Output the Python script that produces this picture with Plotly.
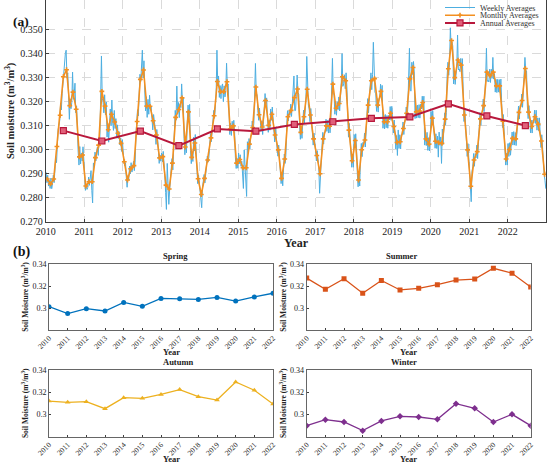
import plotly.graph_objects as go

years = list(range(2010, 2023))
year_ticks = list(range(2010, 2023))

# monthly averages, one row per year (Jan..Dec)
monthly = [
    0.2877, 0.2857, 0.2877, 0.3012, 0.3142, 0.3302, 0.3331, 0.3182, 0.3238, 0.3167, 0.2969, 0.2977,
    0.2848, 0.2866, 0.2866, 0.2966, 0.3018, 0.3241, 0.3180, 0.3082, 0.3146, 0.3114, 0.3067, 0.3025,
    0.2949, 0.2873, 0.2920, 0.2933, 0.3116, 0.3291, 0.3330, 0.3180, 0.3179, 0.3119, 0.3060, 0.2965,
    0.2970, 0.2852, 0.2836, 0.2943, 0.3133, 0.3166, 0.3214, 0.3010, 0.3156, 0.2967, 0.3027, 0.2878,
    0.2813, 0.2880, 0.2956, 0.3048, 0.3140, 0.3282, 0.3240, 0.3240, 0.3281, 0.3085, 0.3098, 0.2943,
    0.2958, 0.2924, 0.2924, 0.3022, 0.3091, 0.3259, 0.3144, 0.3093, 0.3203, 0.3100, 0.3146, 0.3060,
    0.2998, 0.2880, 0.2960, 0.3136, 0.3162, 0.3215, 0.3251, 0.3071, 0.3136, 0.3250, 0.3143, 0.3044,
    0.2975, 0.2899, 0.3044, 0.3098, 0.3096, 0.3271, 0.3171, 0.3191, 0.3302, 0.3285, 0.3080, 0.2953,
    0.3037, 0.2873, 0.2999, 0.3039, 0.3184, 0.3285, 0.3294, 0.3184, 0.3241, 0.3115, 0.3115, 0.3150,
    0.3095, 0.3029, 0.3032, 0.3087, 0.3150, 0.3293, 0.3340, 0.3156, 0.3159, 0.3195, 0.3044, 0.3022,
    0.3130, 0.3034, 0.3028, 0.3025, 0.3126, 0.3335, 0.3452, 0.3298, 0.3371, 0.3350, 0.3143, 0.2998,
    0.2847, 0.2956, 0.2991, 0.3127, 0.3182, 0.3321, 0.3306, 0.3321, 0.3264, 0.3264, 0.3117, 0.2960,
    0.3000, 0.3046, 0.3044, 0.3154, 0.3203, 0.3336, 0.3155, 0.3095, 0.3136, 0.3105, 0.3035, 0.2897,
]

# weekly averages, four per month, one row per year
weekly = [
    .2905, .2862, .2893, .2848, .2872, .2838, .2881, .2837, .2858, .2893, .2862, .2915,
    .2968, .2945, .3052, .3083, .3098, .3121, .3185, .3164, .3232, .3279, .3325, .3372,
    .3398, .3412, .3296, .3318, .3224, .3125, .3210, .3169, .3194, .3321, .3208, .3229,
    .3275, .3152, .3181, .3060, .2989, .2935, .3012, .2940, .2985, .2952, .3011, .2960,

    .2872, .2830, .2856, .2834, .2843, .2885, .2851, .2885, .2912, .2830, .2778, .2944,
    .2928, .2989, .2952, .2995, .3010, .2975, .3045, .3042, .3165, .3388, .3212, .3199,
    .3152, .3227, .3144, .3197, .3051, .3108, .3030, .3139, .3168, .3098, .3205, .3113,
    .3079, .3162, .3087, .3128, .3047, .3102, .3045, .3074, .3019, .3048, .2992, .3041,

    .2968, .2951, .2932, .2945, .2885, .2843, .2892, .2872, .2931, .2898, .2945, .2906,
    .2922, .2951, .2912, .2947, .3062, .3098, .3165, .3139, .3215, .3312, .3283, .3354,
    .3412, .3297, .3368, .3243, .3160, .3219, .3133, .3208, .3146, .3225, .3168, .3177,
    .3139, .3081, .3145, .3111, .3088, .3021, .3083, .3048, .2991, .2942, .2976, .2951,

    .2985, .2948, .2992, .2955, .2893, .2822, .2751, .2942, .2860, .2772, .2831, .2881,
    .2908, .2962, .2915, .2987, .3086, .3162, .3121, .3263, .3148, .3195, .3132, .3189,
    .3174, .3272, .3195, .3215, .3045, .2978, .3031, .2986, .3118, .3184, .3135, .3187,
    .2995, .2941, .2982, .2950, .3051, .2994, .3062, .3001, .2902, .2858, .2895, .2857,

    .2833, .2788, .2758, .2842, .2862, .2896, .2861, .2903, .2935, .2972, .2948, .2969,
    .3021, .3066, .3032, .3073, .3109, .3162, .3129, .3172, .3231, .3412, .3272, .3305,
    .3216, .3265, .3211, .3262, .3272, .3198, .3264, .3218, .3245, .3358, .3261, .3272,
    .3121, .3062, .3109, .3058, .3117, .3079, .3121, .3075, .2968, .2921, .2963, .2922,

    .2985, .2941, .2978, .2930, .2951, .2896, .2838, .2998, .2947, .2893, .2805, .3032,
    .2988, .3045, .3002, .3053, .3062, .3118, .3075, .3108, .3221, .3357, .3236, .3225,
    .3162, .3121, .3172, .3120, .3075, .3119, .3062, .3115, .3176, .3232, .3189, .3214,
    .3128, .3071, .3122, .3080, .3168, .3121, .3176, .3117, .3082, .3031, .3090, .3036,

    .3025, .2972, .3018, .2978, .2912, .2858, .2901, .2849, .2938, .2981, .2942, .2979,
    .3102, .3161, .3118, .3163, .3141, .3188, .3137, .3182, .3232, .3305, .3161, .3162,
    .3228, .3309, .3237, .3230, .3101, .3042, .3095, .3046, .3112, .3163, .3108, .3161,
    .3218, .3386, .3212, .3184, .3168, .3115, .3170, .3119, .3071, .3018, .3068, .3019,

    .2998, .2952, .2995, .2955, .2925, .2818, .2902, .2951, .3015, .3071, .3022, .3068,
    .3072, .3125, .3075, .3120, .3068, .3124, .3069, .3123, .3245, .3378, .3231, .3230,
    .3146, .3198, .3142, .3198, .3165, .3218, .3160, .3221, .3275, .3398, .3262, .3273,
    .3310, .3252, .3318, .3260, .3112, .3051, .3108, .3049, .2979, .2926, .2981, .2926,

    .3062, .3011, .3065, .3010, .2901, .2845, .2898, .2848, .2972, .3025, .2970, .3029,
    .3012, .3068, .3010, .3066, .3158, .3211, .3152, .3215, .3262, .3318, .3248, .3312,
    .3445, .3262, .3238, .3231, .3158, .3211, .3155, .3212, .3215, .3271, .3212, .3266,
    .3088, .3142, .3085, .3145, .3090, .3141, .3088, .3141, .3122, .3178, .3121, .3179,

    .3121, .3068, .3122, .3069, .3002, .3058, .2975, .3081, .3004, .3061, .3002, .3061,
    .3060, .3114, .3062, .3112, .3124, .3176, .3122, .3178, .3265, .3420, .3245, .3242,
    .3362, .3311, .3365, .3322, .3128, .3182, .3130, .3184, .3132, .3186, .3130, .3188,
    .3168, .3221, .3170, .3221, .3018, .3071, .3016, .3071, .2996, .3049, .2994, .3049,

    .3158, .3102, .3161, .3099, .3062, .3005, .3065, .3004, .3055, .2968, .3072, .3017,
    .3052, .2942, .3085, .3021, .3098, .3152, .3101, .3153, .3305, .3362, .3308, .3365,
    .3505, .3428, .3445, .3430, .3272, .3325, .3270, .3325, .3345, .3475, .3330, .3334,
    .3323, .3378, .3322, .3377, .3170, .3116, .3172, .3114, .3025, .2971, .3024, .2972,

    .2875, .2820, .2783, .2910, .2928, .2983, .2930, .2983, .2965, .3018, .2962, .3019,
    .3101, .3153, .3100, .3154, .3155, .3209, .3157, .3207, .3295, .3420, .3282, .3287,
    .3280, .3333, .3278, .3333, .3295, .3382, .3292, .3315, .3238, .3291, .3236, .3291,
    .3238, .3290, .3236, .3292, .3142, .3091, .3145, .3090, .2986, .2935, .2984, .2935,

    .3025, .2971, .3028, .2976, .3020, .3072, .3018, .3074, .3018, .3070, .3016, .3072,
    .3128, .3180, .3126, .3182, .3176, .3230, .3175, .3231, .3310, .3382, .3326, .3326,
    .3181, .3128, .3182, .3129, .3069, .3121, .3068, .3122, .3110, .3163, .3108, .3163,
    .3080, .3131, .3078, .3131, .3062, .3008, .3061, .3009, .2925, .2895, .2870, .2837,
]

annual = [0.3078, 0.3035, 0.3076, 0.3016, 0.3085, 0.3076, 0.3104,
          0.3115, 0.3129, 0.3135, 0.3189, 0.3139, 0.3099]

spring = [0.3012, 0.2949, 0.2994, 0.2973, 0.3051, 0.3015, 0.3087,
          0.3084, 0.3078, 0.3096, 0.3063, 0.3101, 0.3134]
summer = [0.3272, 0.3170, 0.3266, 0.3134, 0.3251, 0.3164, 0.3179,
          0.3212, 0.3254, 0.3263, 0.3361, 0.3316, 0.3191]
autumn = [0.3120, 0.3108, 0.3114, 0.3051, 0.3150, 0.3144, 0.3180,
          0.3223, 0.3159, 0.3129, 0.3292, 0.3217, 0.3093]
winter = [0.2898, 0.2952, 0.2931, 0.2853, 0.2940, 0.2982, 0.2976,
          0.2955, 0.3096, 0.3054, 0.2931, 0.3000, 0.2898]

week_x = [2010 + (i + 0.5) / 48 for i in range(len(weekly))]
month_x = [2010 + (i + 0.5) / 12 for i in range(len(monthly))]
annual_x = [y + 5.5 / 12 for y in years]

FONT = "Liberation Serif"
W, H = 550, 465

def px_x(v):
    return v / W

def px_y(v):
    return 1 - v / H

fig = go.Figure()

# ---- panel (a), one small legend per trace so the rows can sit tight
fig.add_trace(go.Scatter(x=week_x, y=weekly, mode="lines", name="Weekly Averages",
                         line=dict(color="#4DAEE0", width=1), xaxis="x", yaxis="y",
                         legend="legend"))
fig.add_trace(go.Scatter(x=month_x, y=monthly, mode="lines+markers", name="Monthly Averages",
                         line=dict(color="#F39020", width=1.6),
                         marker=dict(symbol="cross", size=4, color="#F39020"),
                         xaxis="x", yaxis="y", legend="legend2"))
fig.add_trace(go.Scatter(x=annual_x, y=annual, mode="lines+markers", name="Annual Averages",
                         line=dict(color="#B8183C", width=2),
                         marker=dict(symbol="square", size=6, color="#E0607A",
                                     line=dict(color="#B8183C", width=1.2)),
                         xaxis="x", yaxis="y", legend="legend3"))

# ---- panel (b)
seasons = [
    ("Spring", spring, "#0072BD", "circle", "x2", "y2"),
    ("Summer", summer, "#D95319", "square", "x3", "y3"),
    ("Autumn", autumn, "#EDB120", "triangle-up", "x4", "y4"),
    ("Winter", winter, "#7E2F8E", "diamond", "x5", "y5"),
]
for name, vals, col, sym, xa, ya in seasons:
    fig.add_trace(go.Scatter(x=years, y=vals, mode="lines+markers", name=name, showlegend=False,
                             line=dict(color=col, width=1.3),
                             marker=dict(symbol=sym, size=5, color=col),
                             xaxis=xa, yaxis=ya))

axis_col = "#404040"

def leg(row_y):
    return dict(x=px_x(440), y=px_y(row_y), xanchor="left", yanchor="middle",
                bgcolor="rgba(0,0,0,0)", font=dict(size=8, family=FONT, color="#333"),
                itemwidth=30, borderwidth=0)

fig.update_layout(
    width=W, height=H,
    margin=dict(l=0, r=0, t=0, b=0, autoexpand=False),
    paper_bgcolor="white", plot_bgcolor="white",
    font=dict(family=FONT, color="#222222"),
    legend=leg(7.5), legend2=leg(15.2), legend3=leg(22.9),
    xaxis=dict(domain=[px_x(45.7), px_x(546.2)], range=[2010, 2023], automargin=False,
               tickvals=year_ticks, ticks="inside", ticklen=3, tickcolor=axis_col,
               showline=True, linecolor=axis_col, linewidth=1, mirror=True,
               showgrid=True, gridcolor="#DADADA", griddash="dash", gridwidth=0.8,
               zeroline=False, tickfont=dict(size=10, family=FONT, color="#222"),
               anchor="y"),
    yaxis=dict(domain=[px_y(221.7), 1.0], range=[0.27, 0.36204], automargin=False,
               tickvals=[0.27, 0.28, 0.29, 0.30, 0.31, 0.32, 0.33, 0.34, 0.35],
               tickformat=".3f", ticks="inside", ticklen=3, tickcolor=axis_col,
               showline=True, linecolor=axis_col, linewidth=1, mirror=True,
               showgrid=True, gridcolor="#DADADA", griddash="dash", gridwidth=0.8,
               zeroline=False, tickfont=dict(size=10, family=FONT, color="#222"),
               title=dict(text="<b>Soil moisture (m<sup>3</sup>/m<sup>3</sup>)</b>",
                          font=dict(size=10.5, family=FONT), standoff=3),
               anchor="x"),
)

sub_x = {"x2": (49, 273), "x3": (306.7, 530.7), "x4": (49, 273), "x5": (306.7, 530.7)}
sub_y = {"y2": (264, 330), "y3": (264, 330), "y4": (370, 436.5), "y5": (370, 436.5)}
for (name, vals, col, sym, xa, ya) in seasons:
    xn = "xaxis" + xa[1:]
    yn = "yaxis" + ya[1:]
    x0, x1 = sub_x[xa]
    y0, y1 = sub_y[ya]
    fig.update_layout({
        xn: dict(domain=[px_x(x0), px_x(x1)], range=[2010, 2022], anchor=ya, automargin=False,
                 tickvals=year_ticks, tickangle=-45, ticks="inside", ticklen=2,
                 tickcolor=axis_col, showline=True, linecolor="#666", linewidth=1,
                 mirror=True, showgrid=False, zeroline=False,
                 tickfont=dict(size=7.5, family=FONT, color="#222")),
        yn: dict(domain=[px_y(y1), px_y(y0)], range=[0.28, 0.34], anchor=xa, automargin=False,
                 tickvals=[0.30, 0.32, 0.34], ticktext=["0.3", "0.32", "0.34"],
                 ticks="inside", ticklen=2, tickcolor=axis_col,
                 showline=True, linecolor="#666", linewidth=1, mirror=True,
                 showgrid=False, zeroline=False,
                 tickfont=dict(size=8, family=FONT, color="#222"),
                 title=dict(text="<b>Soil Moisture (m<sup>3</sup>/m<sup>3</sup>)</b>",
                            font=dict(size=7.5, family=FONT), standoff=2)),
    })
    cx = (px_x(x0) + px_x(x1)) / 2
    fig.add_annotation(x=cx, y=px_y(y0 - 1), xref="paper", yref="paper",
                       text="<b>" + name + "</b>", showarrow=False, yanchor="bottom",
                       font=dict(size=8.5, family=FONT, color="#222"))
    fig.add_annotation(x=cx, y=px_y(y1 + 22), xref="paper", yref="paper",
                       text="<b>Year</b>", showarrow=False, yanchor="middle",
                       font=dict(size=8.5, family=FONT, color="#222"))

fig.add_annotation(x=px_x(296), y=px_y(243), xref="paper", yref="paper", text="<b>Year</b>",
                   showarrow=False, yanchor="middle", font=dict(size=12, family=FONT, color="#222"))
fig.add_annotation(x=px_x(11), y=px_y(12.5), xref="paper", yref="paper", text="<b>(a)</b>",
                   showarrow=False, xanchor="left", font=dict(size=13.5, family=FONT, color="#111"))
fig.add_annotation(x=px_x(11), y=px_y(252), xref="paper", yref="paper", text="<b>(b)</b>",
                   showarrow=False, xanchor="left", font=dict(size=14, family=FONT, color="#111"))

fig.write_html("out.html", config={"displayModeBar": False},
               post_script="document.body.style.margin='0';")
